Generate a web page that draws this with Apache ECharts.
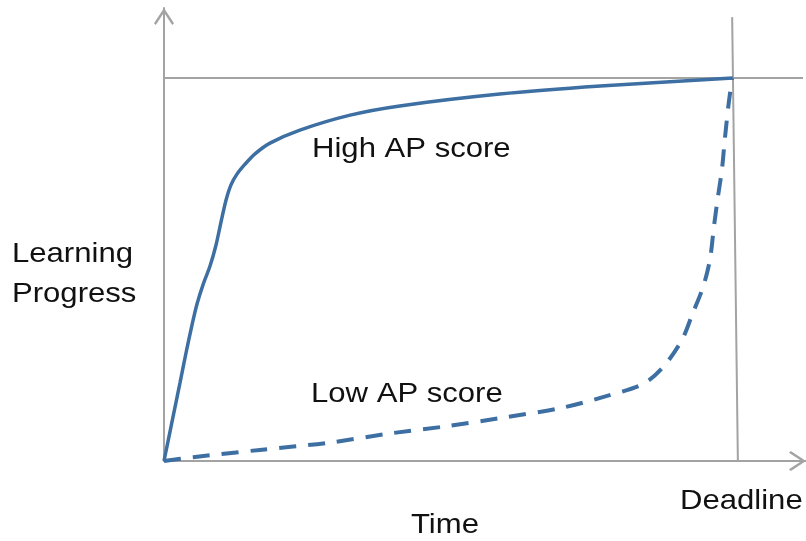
<!DOCTYPE html>
<html>
<head>
<meta charset="utf-8">
<script src="https://cdn.jsdelivr.net/npm/echarts@6/dist/echarts.min.js"></script>
<style>html,body{margin:0;padding:0;background:#fff;}#c{width:806px;height:541px;}</style>
</head>
<body>
<div id="c"></div>
<script>
// Data (x: time, 0..100 = deadline; y: progress, 100 = goal)
const highAP = [[0,0],[1.4,10.2],[2.8,20.4],[4.03,29.5],[4.9,35.5],[5.78,41.0],[6.83,46.0],[8.06,50.9],[9.11,56.4],[9.98,62.4],[10.86,68.1],[11.73,72.1],[12.78,74.9],[14.19,77.5],[15.94,80.2],[18.56,83.0],[23.8,86.4],[32.6,90.3],[41.3,92.7],[58.8,95.8],[76.4,97.9],[99.6,100]];
const lowAP = [[0,0],[5.1,1.0],[16.8,2.9],[28.5,4.7],[40.1,7.3],[49.6,9.1],[58.8,11.2],[69.4,13.8],[77.6,17.0],[83.9,20.1],[87.4,24.5],[90.7,31.6],[92.6,38.6],[94.4,45.4],[95.6,52.5],[96.3,61.1],[97.0,68.9],[97.7,76.0],[98.2,83.8],[98.9,93.5],[99.5,100]];
const goalLine = [[0,100],[111.9,100]];
const deadlineLine = [[99.5,115.9],[100.5,0]];
const labels = {high:'High AP score', low:'Low AP score', yName:['Learning','Progress'], deadline:'Deadline', xName:'Time'};

const chart = echarts.init(document.getElementById('c'));
const gray = '#a3a3a3';
const blue = '#3d6fa3';
const chevron = 'path://M10,0 L20,15.2 L18.2,17 L10,4.4 L1.8,17 L0,15.2 Z';
const txtFont = '28px "Liberation Sans", Arial, sans-serif';
function txt(t, x, y){
  return {type:'text', x:x, y:y, scaleX:1.11, scaleY:1, z:100,
    style:{text:t, x:0, y:0, fill:'#111', font:txtFont, textAlign:'left', textVerticalAlign:'middle', align:'left', verticalAlign:'middle'}};
}
const axisCommon = {
  axisTick:{show:false}, axisLabel:{show:false}, splitLine:{show:false},
  axisLine:{show:true, symbol:['none', chevron], symbolSize:[20,17], symbolOffset:[0,-8.5], lineStyle:{color:gray, width:2}}
};
chart.setOption({
  animation:false,
  backgroundColor:'#fff',
  grid:{left:164, right:0, top:8, bottom:80, containLabel:false},
  xAxis:Object.assign({type:'value', min:0, max:112.43}, axisCommon),
  yAxis:Object.assign({type:'value', min:0, max:118.28}, axisCommon),
  series:[
    {type:'line', data:goalLine, showSymbol:false, lineStyle:{color:gray, width:2}, z:1},
    {type:'line', data:deadlineLine, showSymbol:false, lineStyle:{color:gray, width:2}, z:1},
    {type:'line', data:highAP, showSymbol:false, smooth:0.3, lineStyle:{color:blue, width:3.5}, z:3},
    {type:'line', data:lowAP, showSymbol:false, smooth:0.3, lineStyle:{color:blue, width:4, type:[17,12]}, z:3}
  ],
  graphic:[
    txt(labels.high, 312, 149),
    txt(labels.low, 311, 394),
    txt(labels.yName[0], 12, 254),
    txt(labels.yName[1], 12, 294),
    txt(labels.deadline, 680, 501),
    txt(labels.xName, 411, 525)
  ]
});
</script>
</body>
</html>
